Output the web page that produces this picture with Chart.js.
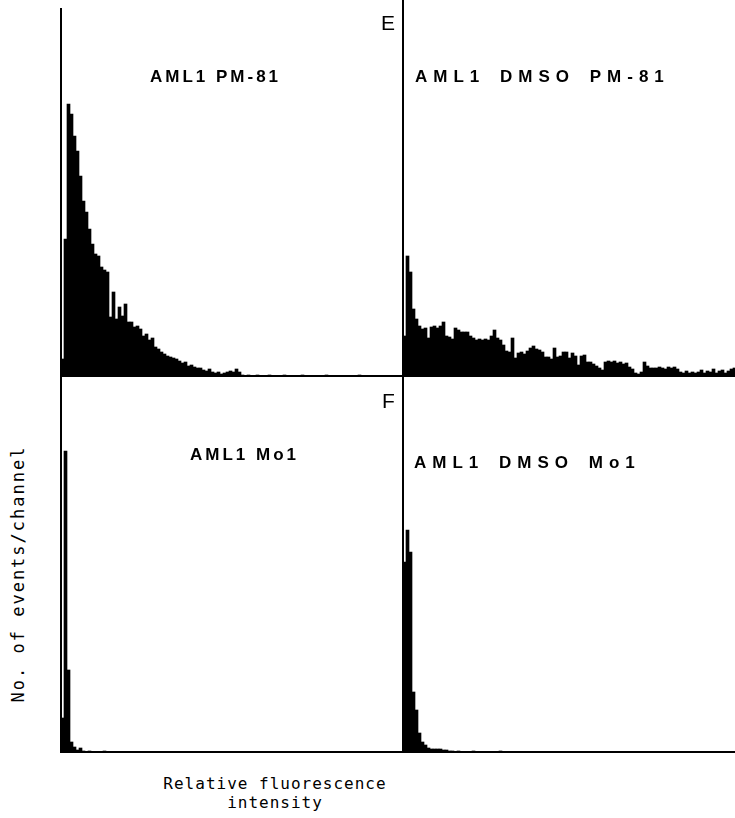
<!DOCTYPE html>
<html>
<head>
<meta charset="utf-8">
<script src="https://cdn.jsdelivr.net/npm/chart.js@4.4.1/dist/chart.umd.min.js"></script>
<style>
    html, body { margin: 0; padding: 0; background: #fff; overflow: hidden; }
    body { width: 735px; height: 818px; position: relative; }
    canvas { position: absolute; }
    .lbl { position: absolute; font-family: "Liberation Sans", Arial, sans-serif; font-weight: bold; font-size: 17px; letter-spacing: 3px; color: #000; white-space: nowrap; }
    .lbl.wide { letter-spacing: 6px; word-spacing: 4px; }
    .tag { position: absolute; font-family: "Liberation Sans", Arial, sans-serif; font-size: 21px; color: #000; }
    .axt { position: absolute; font-family: "DejaVu Sans Mono", monospace; font-size: 16px; letter-spacing: 1px; color: #000; white-space: nowrap; text-align: center; }
    .axt.yt { font-size: 17px; letter-spacing: 2px; }
</style>
</head>
<body>
<canvas id="pm81" width="346" height="372" style="left:57px; top:8px;"></canvas>
<canvas id="dmsoPm81" width="346" height="380" style="left:399px; top:0px;"></canvas>
<canvas id="mo1" width="346" height="380" style="left:57px; top:376px;"></canvas>
<canvas id="dmsoMo1" width="346" height="380" style="left:399px; top:376px;"></canvas>

<div class="lbl" style="left:150px; top:67px;">AML1 PM-81</div>
<div class="lbl wide" style="left:415px; top:67px;">AML1 DMSO PM-81</div>
<div class="lbl" style="left:190px; top:445px;">AML1 Mo1</div>
<div class="lbl wide" style="left:414px; top:453px;">AML1 DMSO Mo1</div>
<div class="tag" style="left:381px; top:11px;">E</div>
<div class="tag" style="left:382px; top:389px;">F</div>
<div class="axt yt" style="left:-122px; top:564px; width:280px; transform: rotate(-90deg);">No. of events/channel</div>
<div class="axt" style="left:140px; top:774px; width:270px; line-height:19px;">Relative fluorescence<br>intensity</div>

<script>
// fluorescence channels (3 px bins)
const channels = Array.from({ length: 114 }, (_, i) => String(i));

// E: AML1 PM-81
const pm81 = [17, 137, 272, 262, 240, 225, 200, 175, 164, 147, 132, 122, 120, 109, 106, 104,
    59, 84, 57, 69, 60, 72, 54, 54, 49, 50, 47, 40, 42, 36, 38, 29, 27, 24, 22, 20, 19, 18, 17,
    15, 13, 14, 10, 11, 9, 8, 8, 6, 5, 7, 4, 3, 4, 2, 3, 4, 5, 4, 7, 4, 1, 0, 1, 0, 0, 1, 0, 0,
    0, 1, 0, 0, 0, 0, 1, 0, 0, 0, 0, 0, 1, 0, 0, 0, 0, 0, 0, 0, 1, 0, 0, 0, 0, 0, 0, 0, 0, 0, 0,
    1, 0, 0, 0, 0, 0, 0, 0, 0, 0, 0, 0, 0, 0, 0];

// E: AML1 DMSO PM-81
const dmsoPm81 = [40, 120, 104, 67, 57, 50, 47, 48, 38, 49, 50, 48, 50, 54,
    40, 39, 37, 48, 46, 44, 44, 44, 40, 38, 36, 37, 36, 37, 36,
    40, 46, 38, 36, 31, 25, 24, 38,
    18, 23, 24, 22, 25, 28, 30, 27, 26, 24, 19, 19, 17,
    28, 19, 20, 24, 24, 18, 23, 20, 11, 20, 21, 14, 14, 12, 10, 8, 6,
    14, 15, 14, 15, 13, 14, 12, 13, 9, 7, 3, 2, 4, 14, 10, 8, 8,
    8, 9, 8, 7, 9, 8, 9, 7,
    4, 3, 5, 3, 4, 3,
    4, 6, 3, 5, 4, 7, 3, 5, 6, 3, 5, 7, 8,
    5, 4, 6];

// F: AML1 Mo1
const mo1 = [34, 301, 82, 10, 5, 2, 4, 1, 0, 1, 0, 0, 0, 0, 1, 0, 0, 0, 0, 0,
    0, 0, 0, 0, 0, 0, 0, 0, 0, 0, 0, 0, 0, 0, 0, 0, 0, 0, 0, 0, 0, 0, 0, 0, 0, 0, 0, 0, 0, 0,
    0, 0, 0, 0, 0, 0, 0, 0, 0, 0, 0, 0, 0, 0, 0, 0, 0, 0, 0, 0, 0, 0, 0, 0, 0, 0, 0, 0, 0, 0,
    0, 0, 0, 0, 0, 0, 0, 0, 0, 0, 0, 0, 0, 0, 0, 0, 0, 0, 0, 0, 0, 0, 0, 0, 0, 0, 0, 0, 0, 0,
    0, 0, 0, 0];

// F: AML1 DMSO Mo1
const dmsoMo1 = [190, 222, 200, 60, 42, 19, 10, 7, 4, 3, 3, 3, 3, 2, 2, 1, 1, 0, 1, 0,
    0, 0, 0, 1, 0, 0, 0, 0, 0, 0, 0, 0, 1, 0, 0, 0, 0, 0, 0, 0, 0, 0, 0, 0, 0, 0, 0, 0, 0, 0,
    0, 0, 0, 0, 0, 0, 0, 0, 0, 0, 0, 0, 0, 0, 0, 0, 0, 0, 0, 0, 0, 0, 0, 0, 0, 0, 0, 0, 0, 0,
    0, 0, 0, 0, 0, 0, 0, 0, 0, 0, 0, 0, 0, 0, 0, 0, 0, 0, 0, 0, 0, 0, 0, 0, 0, 0, 0, 0, 0, 0,
    0, 0, 0, 0];

function makePanel(id, values, yMax) {
    const ctx = document.getElementById(id)?.getContext('2d');
    if (!ctx) return;
    new Chart(ctx, {
        type: 'bar',
        data: {
            labels: channels,
            datasets: [{
                data: values,
                backgroundColor: '#000',
                borderWidth: 0,
                barPercentage: 1,
                categoryPercentage: 1
            }]
        },
        options: {
            responsive: false,
            animation: false,
            layout: { padding: { left: 4, bottom: 4, top: 0, right: 0 } },
            plugins: { legend: { display: false }, tooltip: { enabled: false } },
            scales: {
                x: {
                    grid: { display: false, drawTicks: false },
                    ticks: { display: false },
                    border: { display: true, color: '#000', width: 2 }
                },
                y: {
                    min: 0,
                    max: yMax,
                    grid: { display: false, drawTicks: false },
                    ticks: { display: false },
                    border: { display: true, color: '#000', width: 2 }
                }
            }
        }
    });
}

document.addEventListener('DOMContentLoaded', () => {
    makePanel('pm81', pm81, 368);
    makePanel('dmsoPm81', dmsoPm81, 376);
    makePanel('mo1', mo1, 376);
    makePanel('dmsoMo1', dmsoMo1, 376);
});
</script>
</body>
</html>
